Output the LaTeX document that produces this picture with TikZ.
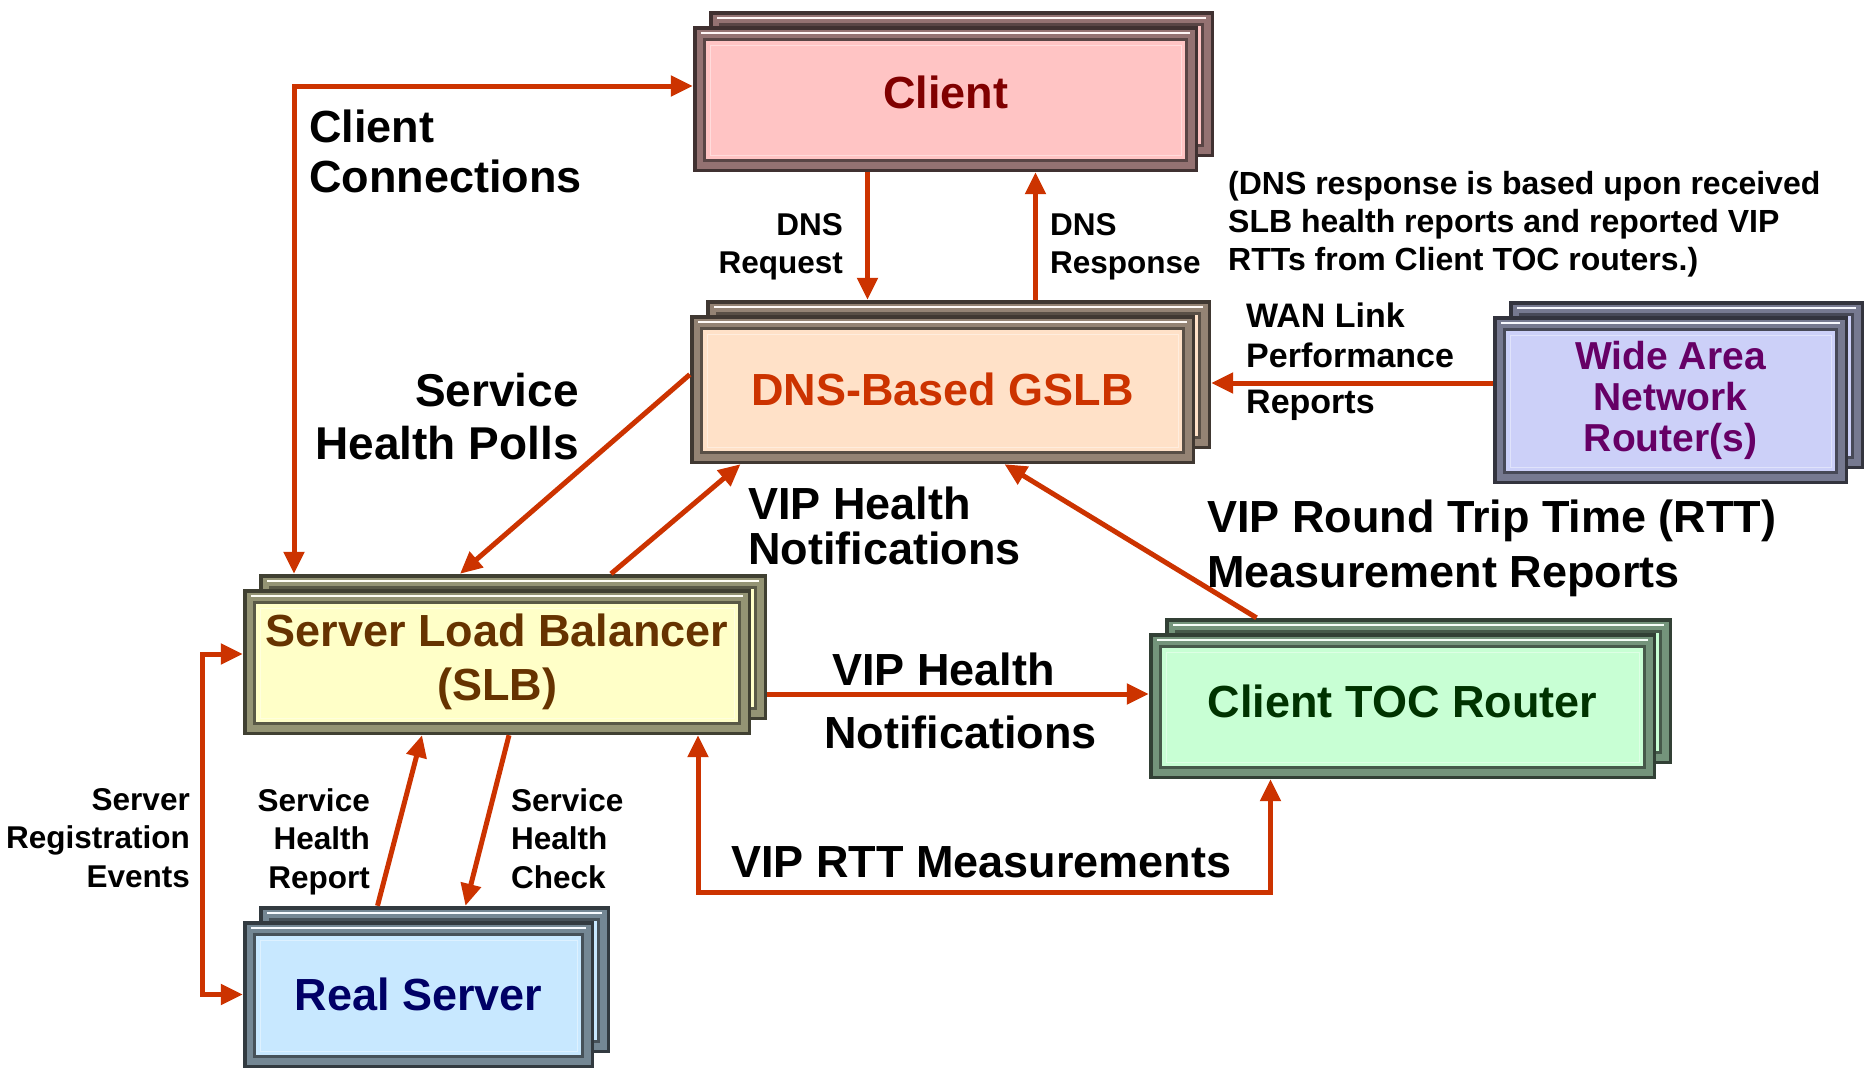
\documentclass[tikz,border=0pt]{standalone}
\usepackage{fontspec}
\setmainfont{Liberation Sans}
\usetikzlibrary{arrows.meta}
\definecolor{arr}{RGB}{204,51,0}
\definecolor{cclient}{RGB}{255,196,196}
\definecolor{cdns}{RGB}{255,225,200}
\definecolor{cslb}{RGB}{255,255,200}
\definecolor{crs}{RGB}{200,232,255}
\definecolor{cwan}{RGB}{204,208,248}
\definecolor{ctoc}{RGB}{200,255,212}
\definecolor{tclient}{RGB}{128,0,0}
\definecolor{tdns}{RGB}{204,51,0}
\definecolor{tslb}{RGB}{102,51,0}
\definecolor{trs}{RGB}{0,0,102}
\definecolor{twan}{RGB}{102,0,102}
\definecolor{ttoc}{RGB}{0,51,0}
\tikzset{
  glass/.style={inner sep=0pt, align=center, font=\bfseries\fontsize{45}{54}\selectfont,
    path picture={
      \fill[#1!25!black] (path picture bounding box.south west) rectangle (path picture bounding box.north east);
      \fill[#1!58!black] ([xshift=4pt,yshift=3pt]path picture bounding box.south west) rectangle ([xshift=-3pt,yshift=-4pt]path picture bounding box.north east);
      \draw[white!85!#1, line width=2.5pt] ([xshift=8pt,yshift=-7pt]path picture bounding box.north west) -- ([xshift=-8pt,yshift=-7pt]path picture bounding box.north east);
      \fill[#1!35!black] ([xshift=10pt,yshift=10pt]path picture bounding box.south west) rectangle ([xshift=-10pt,yshift=-12pt]path picture bounding box.north east);
      \fill[#1] ([xshift=13pt,yshift=13pt]path picture bounding box.south west) rectangle ([xshift=-13pt,yshift=-15pt]path picture bounding box.north east);
      \draw[white!40!#1, line width=1pt] ([xshift=17pt,yshift=17pt]path picture bounding box.south west) rectangle ([xshift=-17pt,yshift=-19pt]path picture bounding box.north east);
    }},
  conn/.style={draw=arr, line width=5pt, -{Triangle[length=22pt,width=20pt]}},
  both/.style={draw=arr, line width=5pt, {Triangle[length=22pt,width=20pt]}-{Triangle[length=22pt,width=20pt]}},
  lab/.style={inner sep=0pt, text=black, font=\bfseries\fontsize{45}{50}\selectfont},
  slab/.style={inner sep=0pt, text=black, font=\bfseries\fontsize{31.5}{38}\selectfont}
}
\newcommand\gbox[8]{%
  \node[glass=#6, minimum width=#4pt, minimum height=#5pt] (#1b) at (#2+16,#3-15) {};
  \node[glass=#6, minimum width=#4pt, minimum height=#5pt, #7] (#1) at (#2,#3) {#8};
}
\begin{document}
\begin{tikzpicture}[x=1pt,y=-1pt]
\useasboundingbox[fill=white] (0,0) rectangle (1864,1068);
% boxes
\gbox{client}{945.5}{99}{505}{146}{cclient}{text=tclient}{\raisebox{14pt}{Client}}
\gbox{dns}{942.5}{389.5}{505}{149}{cdns}{text=tdns}{DNS-Based GSLB}
\gbox{slb}{497}{662}{508}{146}{cslb}{text=tslb}{Server Load Balancer\\(SLB)}
\gbox{rs}{418.5}{994.5}{351}{147}{crs}{text=trs}{Real Server}
\gbox{wan}{1670.5}{400}{355}{168}{cwan}{text=twan, font=\bfseries\fontsize{39}{41}\selectfont}{Wide Area\\Network\\Router(s)}
\gbox{toc}{1402.5}{706}{507}{146}{ctoc}{text=ttoc}{\raisebox{10pt}{Client TOC Router}}
% connectors
\coordinate (ccx) at (294,86);
\draw[both] (ccx |- slbb.north) -- (ccx) -- (ccx -| client.west);
\coordinate (dq) at ([xshift=-78pt]client.south);
\draw[conn] (dq) -- (dq |- dnsb.north);
\coordinate (dr) at ([xshift=90pt]client.south);
\draw[conn] (dr |- dnsb.north) -- (dr);
\coordinate (wl) at ([yshift=17pt]wan.west);
\draw[conn] (wl) -- (wl -| dnsb.east);
\draw[conn] ([yshift=15pt]dns.west) -- ([xshift=-53pt]slbb.north);
\draw[conn] ([xshift=98pt]slbb.north) -- ([xshift=-202pt]dns.south);
\draw[conn] ([xshift=-162pt]tocb.north) -- ([xshift=62pt]dns.south);
\coordinate (vh) at ([yshift=12pt]toc.west);
\draw[conn] (vh -| slbb.east) -- (vh);
\coordinate (r1) at ([xshift=201pt]slb.south);
\coordinate (r2) at ([xshift=-132pt]toc.south);
\coordinate (rb) at (0,892);
\draw[both] (r1) -- (r1 |- rb) -- (r2 |- rb) -- (r2);
\coordinate (sr) at ([yshift=8pt]slb.west);
\coordinate (srx) at (202,0);
\draw[both] (sr) -- (sr -| srx) -- (srx |- rs.west) -- (rs.west);
\draw[conn] ([xshift=-57pt]rsb.north) -- ([xshift=-75pt]slb.south);
\draw[conn] ([xshift=12pt]slb.south) -- ([xshift=31pt]rsb.north);
% labels
\node[lab, anchor=north west, align=left, font=\bfseries\fontsize{45}{50}\selectfont] (lcc) at (309,110) {Client\\Connections};
\node[slab, anchor=north east, align=right] (ldq) at (843,213) {DNS\\Request};
\node[slab, anchor=north west, align=left] (ldr) at (1050,213) {DNS\\Response};
\node[slab, anchor=north west, align=left, font=\bfseries\fontsize{32}{38}\selectfont] (lnote) at (1228,171) {(DNS response is based upon received\\SLB health reports and reported VIP\\RTTs from Client TOC routers.)};
\node[slab, anchor=north west, align=left, font=\bfseries\fontsize{34}{40}\selectfont] (lwan) at (1246,303) {WAN Link\\Performance\\[6pt]Reports};
\node[lab, anchor=north east, align=right, font=\bfseries\fontsize{46}{53}\selectfont] (lpoll) at (579,373) {Service\\Health Polls};
\node[lab, anchor=north west, align=left, font=\bfseries\fontsize{45}{45}\selectfont] (lvh1) at (748,487) {VIP Health\\Notifications};
\node[lab, anchor=north west, align=left, font=\bfseries\fontsize{45}{55}\selectfont] (lrtt) at (1207,500) {VIP Round Trip Time (RTT)\\Measurement Reports};
\node[lab, anchor=north west, align=left, font=\bfseries\fontsize{45}{63}\selectfont] (lvh2) at (824,653) {\hspace*{8pt}VIP Health\\Notifications};
\node[slab, anchor=north east, align=right, font=\bfseries\fontsize{31.5}{38.5}\selectfont] (lsr) at (190,788) {Server\\Registration\\Events};
\node[slab, anchor=north east, align=right, font=\bfseries\fontsize{31.5}{38.5}\selectfont] (lshr) at (370,788) {Service\\Health\\Report};
\node[slab, anchor=north west, align=left, font=\bfseries\fontsize{31.5}{38.5}\selectfont] (lshc) at (511,788) {Service\\Health\\Check};
\node[lab, anchor=north west] (lrm) at (731,846) {VIP RTT Measurements};
\end{tikzpicture}
\end{document}
